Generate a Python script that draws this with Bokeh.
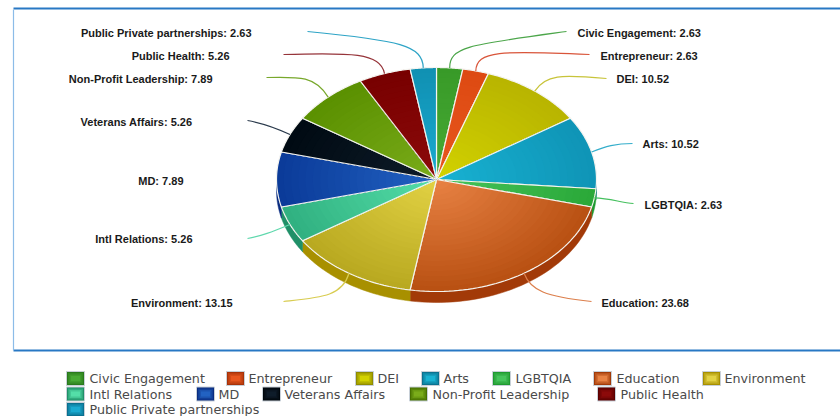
import numpy as np
from bokeh.plotting import figure
from bokeh.core.properties import value
from bokeh.embed import file_html
from bokeh.resources import INLINE

categories = ["Civic Engagement", "Entrepreneur", "DEI", "Arts", "LGBTQIA", "Education", "Environment",
              "Intl Relations", "MD", "Veterans Affairs", "Non-Profit Leadership", "Public Health",
              "Public Private partnerships"]
values = [2.63, 2.63, 10.52, 10.52, 2.63, 23.68, 13.15, 5.26, 7.89, 5.26, 7.89, 5.26, 2.63]

inner = ["#48aa34", "#e8561e", "#d2d200", "#18b2d2", "#46c45c", "#e88244", "#e2d244", "#54dea8", "#2262c2",
         "#0e1c2a", "#7aac1a", "#8c0a0a", "#1aaad0"]
outer = ["#389a28", "#dd4a12", "#b8b400", "#0f94b6", "#2aa838", "#b85012", "#b8a820", "#30b080", "#0a3a98",
         "#000a12", "#5a9000", "#780000", "#1090b2"]
sides = ["#2a7a1c", "#a83208", "#908c00", "#0a7290", "#1f9a30", "#a23a08", "#a89000", "#209068", "#0a2c80",
         "#00060c", "#467000", "#5a0000", "#0a7090"]
leader = ["#4ca64a", "#d9553a", "#c8c43a", "#35aecb", "#45c05e", "#dc7f4c", "#d8cc50", "#5fd8ad", None,
          "#2a3a4c", "#78a82c", "#96343a", "#2ea4c6"]

label_xy = [(577, 32.5), (600, 55.5), (616, 78.5), (642, 143.5), (644, 204.5), (601, 302.5),
            (232, 302.5), (192, 238.5), (183, 180.5), (192, 121.5), (212, 78.5), (229, 55.5), (251, 32.5)]
label_side = ["left"] * 6 + ["right"] * 7
leader_c0 = [(449, 46), (476, 50), (545, 74), (605, 146), (610, 198), (530, 290),
             (342, 296), (270, 232), None, (270, 125), (315, 76), (380, 52), (422, 45)]
leader_c1 = [(470, 44), (500, 50), (560, 74), (615, 143), (620, 202), (545, 296),
             (320, 297), (262, 235), None, (258, 122), (300, 76), (350, 52), (400, 40)]
leader_end = [(566, 31), (589, 54), (606, 78), (632, 143), (633, 203), (591, 301),
              (283, 301), (247, 238), None, (247, 120), (266, 77), (283, 54), (307, 31)]

legend_rows = [[("Civic Engagement", 66, 89), ("Entrepreneur", 226, 248), ("DEI", 355, 377), ("Arts", 421, 443),
                ("LGBTQIA", 492, 515), ("Education", 593, 616), ("Environment", 702, 724)],
               [("Intl Relations", 66, 89), ("MD", 196, 218), ("Veterans Affairs", 262, 284),
                ("Non-Profit Leadership", 409, 432), ("Public Health", 597, 620)],
               [("Public Private partnerships", 66, 89)]]
legend_y = [378, 393.5, 409]

CX, CY, RX, RY, DEPTH = 436, 179, 160, 112, 11
RINGS = 22


def mix(a, b, t):
    ca = [int(a[i:i + 2], 16) for i in (1, 3, 5)]
    cb = [int(b[i:i + 2], 16) for i in (1, 3, 5)]
    return "#%02x%02x%02x" % tuple(round(x + (y - x) * t) for x, y in zip(ca, cb))


def ell(ang, r=1.0):
    return CX + RX * r * np.sin(ang), CY - RY * r * np.cos(ang)


p = figure(width=840, height=416, x_range=(0, 840), y_range=(416, 0), output_backend="svg",
           toolbar_location=None, min_border=0, outline_line_color=None)
p.axis.visible = False
p.grid.visible = False

# frame
p.segment([13, 13], [8, 350], [840, 840], [8, 350], line_color="#2878c4", line_width=2)
p.segment([13], [9], [13], [350], line_color="#8cbce8", line_width=1.2)

fr = np.cumsum([0] + values) / sum(values) * 2 * np.pi

# side wall
for i in range(len(values)):
    a0, a1 = max(fr[i], np.pi / 2), min(fr[i + 1], 3 * np.pi / 2)
    if a1 > a0:
        t = np.linspace(a0, a1, 40)
        x, y = ell(t)
        p.patch(np.r_[x, x[::-1]], np.r_[y, y[::-1] + DEPTH], fill_color=sides[i], line_color=sides[i], line_width=0.5)

# top face with radial shading, painted from the rim inwards so no seams show
for i in range(len(values)):
    t = np.linspace(fr[i], fr[i + 1], 50)
    xs, ys, cs = [], [], []
    for k in range(RINGS, 0, -1):
        x1, y1 = ell(t, k / RINGS)
        xs.append(np.r_[CX, x1])
        ys.append(np.r_[CY, y1])
        cs.append(mix(inner[i], outer[i], (k - 0.5) / RINGS))
    p.patches(xs, ys, fill_color=cs, line_color=None)
    x, y = ell(t)
    p.line(np.r_[CX, x, CX], np.r_[CY, y, CY], line_color="#f4f4f0", line_width=1.2)

# leader lines
mid = (fr[:-1] + fr[1:]) / 2
for i in range(len(values)):
    if leader[i] is None:
        continue
    sx, sy = ell(mid[i])
    p.bezier(x0=[sx], y0=[sy], x1=[leader_end[i][0]], y1=[leader_end[i][1]],
             cx0=[leader_c0[i][0]], cy0=[leader_c0[i][1]], cx1=[leader_c1[i][0]], cy1=[leader_c1[i][1]],
             line_color=leader[i], line_width=1.2)

# data labels
for i, c in enumerate(categories):
    p.text([label_xy[i][0]], [label_xy[i][1]], text=[f"{c}: {values[i]:.2f}"], text_align=label_side[i],
           text_baseline="middle", text_font=value("Liberation Sans"), text_font_style="bold",
           text_font_size="11px", text_color="#1a1a1a")

# legend
for row, ly in zip(legend_rows, legend_y):
    for name, sx, tx in row:
        i = categories.index(name)
        p.rect([sx + 9], [ly], width=18, height=14, fill_color=sides[i], line_color="#c8d0d8", line_width=1)
        for w, h, t in [(15, 11, 0.35), (12, 8, 0.7), (9, 5, 1.0)]:
            p.rect([sx + 9], [ly], width=w, height=h, fill_color=mix(sides[i], inner[i], t), line_color=None)
        p.text([tx], [ly], text=[name], text_align="left", text_baseline="middle",
               text_font=value("DejaVu Sans"), text_font_size="12.7px", text_color="#4a4a4a")

open("out.html", "w").write(file_html(p, INLINE))
